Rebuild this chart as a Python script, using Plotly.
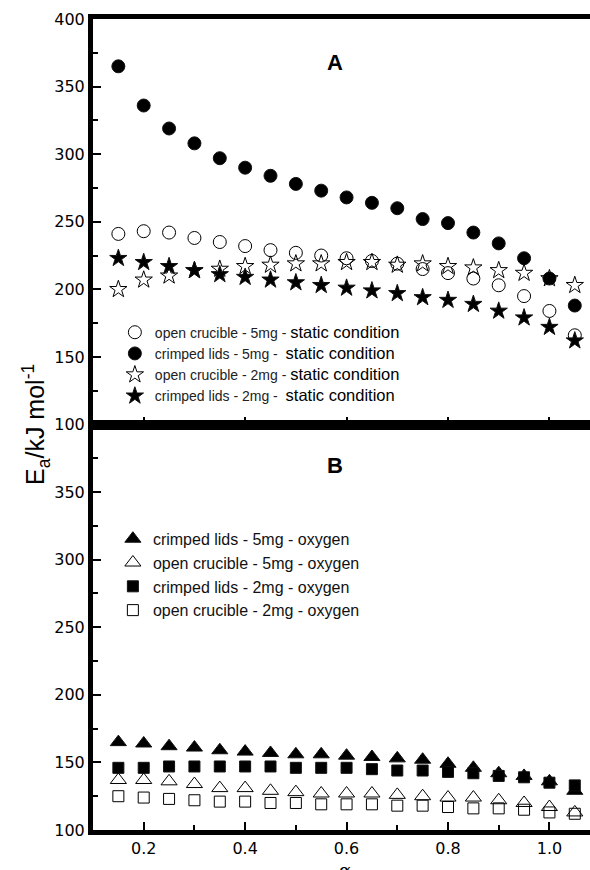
import plotly.graph_objects as go
from plotly.subplots import make_subplots

alpha = [0.15, 0.20, 0.25, 0.30, 0.35, 0.40, 0.45, 0.50, 0.55, 0.60,
         0.65, 0.70, 0.75, 0.80, 0.85, 0.90, 0.95, 1.00, 1.05]

# Panel A - static condition
open_5mg_static = [241, 243, 242, 238, 235, 232, 229, 227, 225, 223,
                   221, 219, 215, 212, 208, 203, 195, 184, 166]
crimped_5mg_static = [365, 336, 319, 308, 297, 290, 284, 278, 273, 268,
                      264, 260, 252, 249, 242, 234, 223, 208, 188]
open_2mg_static = [200, 207, 210, 214, 215, 217, 218, 219, 219, 220,
                   220, 218, 219, 217, 216, 214, 212, 208, 203]
crimped_2mg_static = [223, 220, 217, 214, 211, 209, 207, 205, 203, 201,
                      199, 197, 194, 192, 189, 184, 179, 172, 162]

# Panel B - oxygen
crimped_5mg_oxy = [165, 164, 162, 161, 159, 158, 157, 156, 156, 155,
                   154, 153, 152, 149, 146, 142, 140, 136, 129]
open_5mg_oxy = [137, 137, 136, 134, 131, 131, 129, 128, 127, 127,
                127, 126, 125, 124, 124, 122, 120, 117, 113]
crimped_2mg_oxy = [146, 146, 147, 147, 147, 147, 147, 146, 146, 146,
                   145, 144, 144, 143, 142, 140, 139, 135, 133]
open_2mg_oxy = [125, 124, 123, 122, 121, 121, 120, 120, 119, 119,
                119, 118, 118, 117, 116, 116, 115, 113, 112]

sc = "<span style='font-size:16.5px;color:#000'>static condition</span>"
top_series = [
    ("open crucible - 5mg - " + sc, open_5mg_static, "circle-open", 13),
    ("crimped lids - 5mg -  " + sc, crimped_5mg_static, "circle", 13),
    ("open crucible - 2mg - " + sc, open_2mg_static, "star-open", 13),
    ("crimped lids - 2mg -  " + sc, crimped_2mg_static, "star", 13),
]
bottom_series = [
    ("crimped lids - 5mg - oxygen", crimped_5mg_oxy, "triangle-up", 14),
    ("open crucible - 5mg - oxygen", open_5mg_oxy, "triangle-up-open", 14),
    ("crimped lids - 2mg - oxygen", crimped_2mg_oxy, "square", 11),
    ("open crucible - 2mg - oxygen", open_2mg_oxy, "square-open", 11),
]

fig = make_subplots(rows=2, cols=1, shared_xaxes=True, vertical_spacing=0)

for name, vals, sym, size in top_series:
    fig.add_trace(go.Scatter(
        x=alpha, y=vals, mode="markers", name=name, legend="legend",
        marker=dict(symbol=sym, size=size, color="#000",
                    line=dict(color="#111", width=1))), row=1, col=1)

for name, vals, sym, size in bottom_series:
    fig.add_trace(go.Scatter(
        x=alpha, y=vals, mode="markers", name=name, legend="legend2",
        marker=dict(symbol=sym, size=size, color="#000",
                    line=dict(color="#111", width=1))), row=2, col=1)

tickfont = dict(family="DejaVu Sans, sans-serif", size=16, color="#000")
xcommon = dict(range=[0.1, 1.08], showline=True, linewidth=5, linecolor="#000",
               mirror=True, ticks="inside", ticklen=8, tickwidth=1.5, tickcolor="#000",
               tick0=0.2, dtick=0.2, showgrid=False, zeroline=False,
               minor=dict(ticks="inside", ticklen=5, tickwidth=1.5, tickcolor="#000", dtick=0.1),
               tickfont=tickfont, tickformat=".1f")
fig.update_xaxes(**xcommon)
fig.update_xaxes(showticklabels=False, row=1, col=1)

ycommon = dict(range=[100, 400], showline=True, linewidth=5, linecolor="#000",
               mirror=False, ticks="inside", ticklen=8, tickwidth=1.5, tickcolor="#000",
               showgrid=False, zeroline=False, tickfont=tickfont,
               minor=dict(ticks="inside", ticklen=5, tickwidth=1.5, tickcolor="#000",
                          tickmode="linear", tick0=100, dtick=25))
fig.update_yaxes(**ycommon)
fig.update_yaxes(tickmode="array", tickvals=[100, 150, 200, 250, 300, 350, 400], row=1, col=1)
fig.update_yaxes(tickmode="array", tickvals=[100, 150, 200, 250, 300, 350], row=2, col=1)

# thick left frame
fig.add_shape(type="line", xref="paper", yref="paper", x0=-0.005, x1=-0.005,
              y0=-0.003, y1=1.003, line=dict(color="#000", width=5), layer="above")

fig.add_annotation(text="<b>A</b>", x=0.577, y=368, xref="x", yref="y", showarrow=False,
                   font=dict(family="Liberation Sans, Arial", size=22, color="#000"))
fig.add_annotation(text="<b>B</b>", x=0.577, y=370, xref="x2", yref="y2", showarrow=False,
                   font=dict(family="Liberation Sans, Arial", size=22, color="#000"))
fig.add_annotation(text="E<sub>a</sub>/kJ mol<sup>-1</sup>", x=-0.156, y=0.5,
                   xref="paper", yref="paper", showarrow=False, textangle=-90,
                   font=dict(family="Liberation Sans, Arial", size=25, color="#000"))
fig.add_annotation(text="α", x=0.597, y=-0.034, xref="x2", yref="paper",
                   yanchor="top", showarrow=False,
                   font=dict(family="DejaVu Serif, serif", size=18, color="#000"))

fig.update_layout(
    width=590, height=870,
    margin=dict(l=93, r=0, t=19, b=40),
    plot_bgcolor="white", paper_bgcolor="white",
    legend=dict(x=0.044, y=0.633, xanchor="left", yanchor="top",
                bgcolor="rgba(0,0,0,0)", tracegroupgap=0,
                font=dict(family="Liberation Sans, Arial", size=14, color="#222"),
                itemsizing="trace"),
    legend2=dict(x=0.04, y=0.38, xanchor="left", yanchor="top",
                 bgcolor="rgba(0,0,0,0)",
                 font=dict(family="Liberation Sans, Arial", size=16, color="#111"),
                 itemsizing="trace"),
)

fig.write_html("out.html")
